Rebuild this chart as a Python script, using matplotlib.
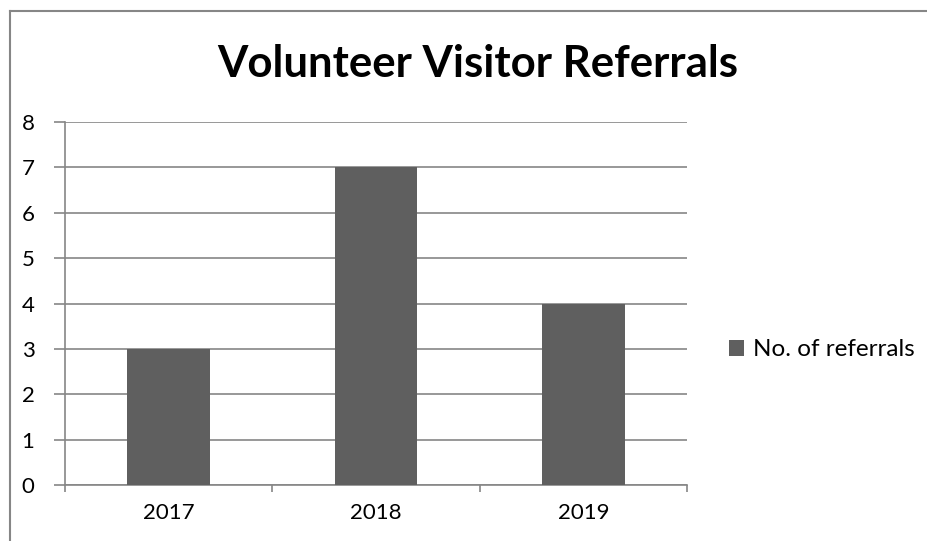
import matplotlib.pyplot as plt
from matplotlib.lines import Line2D
from matplotlib.patches import Patch

years = ['2017', '2018', '2019']
referrals = [3, 7, 4]
series_name = 'No. of referrals'
title = 'Volunteer Visitor Referrals'

plt.rcParams['font.family'] = ['Lato', 'DejaVu Sans']

W, H = 927, 541
fig = plt.figure(figsize=(W / 100, H / 100), dpi=100)
ax = fig.add_axes([65 / W, 1 - 485 / H, (687 - 65) / W, (485 - 122) / H])

grey = '#868686'
bar_col = '#5f5f5f'

x = range(len(years))
ax.bar(x, referrals, width=0.4, color=bar_col, zorder=3)

ax.set_xlim(-0.5, len(years) - 0.5)
ax.set_ylim(0, 8)
ax.set_yticks(range(0, 9))
ax.yaxis.grid(True, color=grey, linewidth=1.2, zorder=0)
ax.set_axisbelow(True)

ax.set_xticks(x)
ax.set_xticklabels(years)
ax.set_xticks([i + 0.5 for i in range(-1, len(years))], minor=True)
ax.tick_params(axis='x', which='major', length=0, pad=13, labelsize=16)
ax.tick_params(axis='x', which='minor', length=5, width=1.2, color=grey, direction='out')
ax.tick_params(axis='y', length=8, width=1.2, color=grey, labelsize=16, pad=14)

for side in ['top', 'right']:
    ax.spines[side].set_visible(False)
for side in ['left', 'bottom']:
    ax.spines[side].set_color(grey)
    ax.spines[side].set_linewidth(1.2)

fig.text(478 / W, 1 - 64 / H, title, ha='center', va='center',
         fontsize=31.5, fontweight='bold')

handle = Patch(facecolor=bar_col, edgecolor='none')
fig.legend([handle], [series_name], loc='center left',
           bbox_to_anchor=(729 / W, 1 - 350 / H), frameon=False, borderpad=0,
           borderaxespad=0, fontsize=17.5, handlelength=0.62, handleheight=0.62,
           handletextpad=0.35)

# chart border
fig.add_artist(Line2D([10 / W, 10 / W], [0, 1 - 11 / H], transform=fig.transFigure,
                      color=grey, linewidth=1.5))
fig.add_artist(Line2D([10 / W, 1], [1 - 11 / H, 1 - 11 / H], transform=fig.transFigure,
                      color=grey, linewidth=1.5))

fig.savefig('out.png', dpi=100)
